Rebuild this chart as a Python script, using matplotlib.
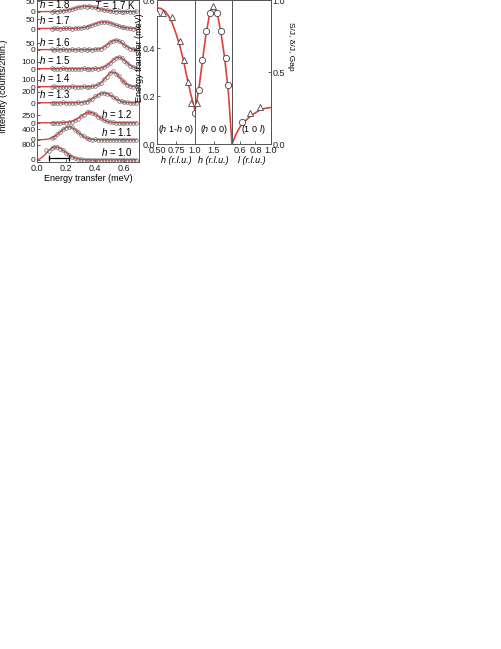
import numpy as np
import matplotlib
matplotlib.use("Agg")
import matplotlib.pyplot as plt

plt.rcParams["font.family"] = ["Liberation Sans", "DejaVu Sans"]
plt.rcParams["mathtext.fontset"] = "custom"
plt.rcParams["mathtext.rm"] = "Liberation Sans"
plt.rcParams["mathtext.it"] = "Liberation Sans:italic"
plt.rcParams["font.size"] = 6.5

nan = float("nan")

# ---- left panel: constant-Q scans (counts / 2 min) ----
energy = [0.00, 0.02, 0.04, 0.06, 0.08, 0.10, 0.12, 0.14, 0.16, 0.18, 0.20, 0.22,
          0.24, 0.26, 0.28, 0.30, 0.32, 0.34, 0.36, 0.38, 0.40, 0.42, 0.44, 0.46,
          0.48, 0.50, 0.52, 0.54, 0.56, 0.58, 0.60, 0.62, 0.64, 0.66, 0.68]

h_values = [1.8, 1.7, 1.6, 1.5, 1.4, 1.3, 1.2, 1.1, 1.0]
tick_counts = [50, 50, 50, 100, 100, 200, 250, 400, 800]

cnt_h18 = [nan, nan, nan, nan, nan, 1, 4, 2, 6, 3, 9, 8, 15, 16, 23, 22, 28, 25, 27, 22,
           23, 15, 14, 8, 9, 4, 5, 1, 4, 2, 0, 3, 1, 2, 3]
fit_h18 = [2, 2, 2, 2, 2, 2, 2.6, 3.1, 4.0, 5.4, 7.4, 10.1, 13.5, 17.2, 20.9, 24.1, 26.2,
           27, 26.2, 24.1, 20.9, 17.2, 13.5, 10.1, 7.4, 5.4, 4.0, 3.1, 2.6, 2, 2, 2, 2, 2, 2]

cnt_h17 = [nan, nan, nan, nan, nan, 2, 5, 3, 1, 4, 3, 5, 2, 4, 3, 6, 8, 9, 14, 19,
           24, 30, 33, 37, 34, 30, 27, 19, 16, 10, 8, 4, 6, 2, 4]
fit_h17 = [3, 3, 3, 3, 3, 3, 3, 3, 3, 3, 3, 3, 3.2, 3.6, 4.2, 5.4, 7.5, 10.6, 14.9, 20.2,
           25.9, 31.0, 34.7, 36, 34.7, 31.0, 25.9, 20.2, 14.9, 10.6, 7.5, 5.4, 4.2, 3.6, 3.2]

cnt_h16 = [nan, nan, nan, nan, nan, 4, 1, 5, 2, 4, 3, 1, 5, 2, 4, 3, 6, 2, 4, 1,
           6, 8, 10, 25, 33, 55, 63, 74, 62, 55, 33, 24, 10, 8, 3]
fit_h16 = [3, 3, 3, 3, 3, 3, 3, 3, 3, 3, 3, 3, 3, 3, 3, 3, 3, 3, 3, 3.4,
           4.4, 6.8, 12.2, 21.9, 36.1, 52.4, 65.8, 71, 65.8, 52.4, 36.1, 21.9, 12.2, 6.8, 4.4]

cnt_h15 = [nan, nan, nan, nan, nan, 8, 2, 6, 4, 9, 3, 5, 7, 2, 6, 4, 8, 3, 6, 4,
           9, 5, 18, 24, 56, 80, 130, 152, 176, 160, 118, 90, 46, 31, 12]
fit_h15 = [5, 5, 5, 5, 5, 5, 5, 5, 5, 5, 5, 5, 5, 5, 5, 5, 5, 5, 5, 5,
           6, 8.3, 14.2, 27.3, 50.9, 85.4, 124.8, 157.3, 170, 157.3, 124.8, 85.4, 50.9, 27.3, 14.2]

cnt_h14 = [nan, nan, nan, nan, nan, 3, 8, 4, 7, 2, 6, 5, 9, 3, 7, 4, 8, 6, 3, 12,
           14, 38, 58, 112, 150, 205, 222, 190, 162, 100, 68, 30, 20, 7, 9]
fit_h14 = [5, 5, 5, 5, 5, 5, 5, 5, 5, 5, 5, 5, 5, 5, 5, 5, 5, 5, 6.3, 9.2,
           16.8, 33.4, 63.4, 107.3, 157.5, 198.8, 215, 198.8, 157.5, 107.3, 63.4, 33.4, 16.8, 9.2, 6.3]

cnt_h13 = [nan, nan, nan, nan, nan, 9, 2, 7, 4, 10, 3, 6, 8, 2, 10, 7, 20, 25, 55, 74,
           120, 142, 181, 190, 170, 155, 108, 84, 45, 33, 13, 12, 4, 8, 3]
fit_h13 = [5, 5, 5, 5, 5, 5, 5, 5, 5, 5, 5, 5, 5, 5.7, 7, 10.2, 16.9, 29.3, 49.8, 79,
           114.3, 149.2, 175.3, 185, 175.3, 149.2, 114.3, 79, 49.8, 29.3, 16.9, 10.2, 7, 5.7, 5]

cnt_h12 = [nan, nan, nan, nan, nan, 14, 3, 10, 5, 16, 12, 35, 45, 98, 135, 215, 265, 330, 345, 312,
           280, 200, 150, 84, 60, 24, 22, 6, 14, 4, 11, 6, 10, 3, 9]
fit_h12 = [8, 8, 8, 8, 8, 8, 8, 8, 9.2, 11.6, 17.6, 29.8, 52.6, 90.2, 143.6, 208.3, 272.3, 320.2,
           338, 320.2, 272.3, 208.3, 143.6, 90.2, 52.6, 29.8, 17.6, 11.6, 9.2, 8, 8, 8, 8, 8, 8]

cnt_h11 = [nan, nan, nan, nan, nan, 80, 118, 210, 285, 395, 445, 490, 460, 375, 305, 195, 135, 65, 48, 18,
           22, 6, 15, 8, 13, 5, 12, 9, 14, 6, 11, 8, 13, 7, 10]
fit_h11 = [10, 11.8, 15.2, 23.6, 41, 73.5, 127, 203.2, 295.3, 386.5, 454.6, 480, 454.6, 386.5, 295.3,
           203.2, 127, 73.5, 41, 23.6, 15.2, 11.8, 10, 10, 10, 10, 10, 10, 10, 10, 10, 10, 10, 10, 10]

cnt_h10 = [nan, nan, nan, 520, 480, 650, 710, 680, 600, 530, 370, 280, 150, 110, 45, 40, 12, 25, 5, 18,
           8, 14, 3, 12, 7, 15, 5, 11, 9, 13, 4, 12, 8, 10, 6]
fit_h10 = [20, 60, 170, 330, 500, 630, 695, 690, 620, 510, 385, 265, 170, 103, 60, 35, 22, 15, 12, 11,
           10, 10, 10, 10, 10, 10, 10, 10, 10, 10, 10, 10, 10, 10, 10]

counts = [cnt_h18, cnt_h17, cnt_h16, cnt_h15, cnt_h14, cnt_h13, cnt_h12, cnt_h11, cnt_h10]
fits = [fit_h18, fit_h17, fit_h16, fit_h15, fit_h14, fit_h13, fit_h12, fit_h11, fit_h10]
resolution = [0.08, 0.22]

# ---- right panel: dispersion ----
seg1_curve_h = [0.50, 0.55, 0.60, 0.65, 0.70, 0.75, 0.80, 0.85, 0.90, 0.95, 1.00]
seg1_curve_e = [0.567, 0.565, 0.555, 0.535, 0.505, 0.46, 0.41, 0.345, 0.27, 0.20, 0.14]
seg1_tri_h = [0.50, 0.58, 0.70, 0.80, 0.85, 0.905, 0.95]
seg1_tri_e = [0.546, 0.546, 0.53, 0.43, 0.35, 0.26, 0.17]
seg1_circ_h = [0.995]
seg1_circ_e = [0.13]

seg2_curve_h = [1.0, 1.1, 1.2, 1.3, 1.4, 1.5, 1.6, 1.7, 1.8, 1.9, 2.0]
seg2_curve_e = [0.14, 0.225, 0.345, 0.46, 0.545, 0.57, 0.545, 0.465, 0.36, 0.22, 0.0]
seg2_circ_h = [1.11, 1.19, 1.30, 1.41, 1.59, 1.70, 1.84, 1.89]
seg2_circ_e = [0.225, 0.35, 0.47, 0.546, 0.546, 0.47, 0.36, 0.245]
seg2_tri_h = [1.06, 1.49]
seg2_tri_e = [0.17, 0.575]

seg3_curve_l = [0.5, 0.55, 0.6, 0.65, 0.7, 0.75, 0.8, 0.85, 0.9, 0.95, 1.0]
seg3_curve_e = [0.0, 0.04, 0.07, 0.09, 0.105, 0.12, 0.13, 0.14, 0.147, 0.15, 0.152]
seg3_circ_l = [0.63]
seg3_circ_e = [0.09]
seg3_tri_l = [0.73, 0.86]
seg3_tri_e = [0.13, 0.155]

# layout of the stacked scans (pixel-like units from the bottom)
baselines = [150, 133, 112, 93, 75, 59, 39, 22, 2]
scales = [0.22, 0.20, 0.14, 0.07, 0.07, 0.055, 0.032, 0.0275, 0.019]

RED = "#e0403a"
EDGE = "#555555"
W, H = 501, 649

fig = plt.figure(figsize=(W / 100, H / 100), dpi=100)


def box(x0, y0, x1, y1):
    return [x0 / W, 1 - y1 / H, (x1 - x0) / W, (y1 - y0) / H]


def style(ax):
    for s in ax.spines.values():
        s.set_color(EDGE)
        s.set_linewidth(0.7)
    ax.tick_params(direction="in", length=2, width=0.5, pad=1.5, labelsize=6.5, colors="#222222")


# left panel
ax = fig.add_axes(box(37, 0, 139, 162))
style(ax)
ax.tick_params(axis="y", labelsize=6, pad=1)
yt, ytl = [], []
for i, h in enumerate(h_values):
    b, s = baselines[i], scales[i]
    ax.plot(energy, b + np.array(fits[i]) * s, color=RED, lw=1.0, zorder=2)
    ax.plot(energy, b + np.array(counts[i]) * s, "o", ms=2.6, mfc="none", mec="#666666",
            mew=0.5, zorder=3)
    yt += [b, b + tick_counts[i] * s]
    ytl += ["0", str(tick_counts[i])]
    if h >= 1.3:
        ax.text(0.015, b + 2.5, f"$h$ = {h:.1f}", fontsize=7, va="bottom", ha="left")
    else:
        ax.text(0.655, b + 2.5, f"$h$ = {h:.1f}", fontsize=7, va="bottom", ha="right")
ax.errorbar(resolution, [4, 4], color="k", lw=0.9, marker="|", ms=4, mew=0.9)
ax.text(0.68, 157, "$T$ = 1.7 K", fontsize=7, ha="right", va="center")
ax.set_yticks(yt)
ax.set_yticklabels(ytl)
ax.set_xticks([0.0, 0.2, 0.4, 0.6])
ax.set_xticklabels(["0.0", "0.2", "0.4", "0.6"])
ax.set_xlim(0, 0.7)
ax.set_ylim(0, 162)
ax.set_xlabel("Energy transfer (meV)", fontsize=6.5, labelpad=0.5)
ax.set_ylabel("Intensity (counts/2min.)", fontsize=6.5)
ax.yaxis.set_label_coords(-0.28, 0.47)

# right panel: three segments
a1 = fig.add_axes(box(157, 0, 195, 144))
a2 = fig.add_axes(box(195, 0, 232, 144))
a3 = fig.add_axes(box(232, 0, 271, 144))
mk = dict(ls="none", mfc="white", mec="#444444", mew=0.6, ms=4.5, zorder=3)
for a in (a1, a2, a3):
    style(a)
    a.set_ylim(0, 0.6)

a1.plot(seg1_curve_h, seg1_curve_e, color=RED, lw=1.2)
a1.plot(seg1_tri_h, seg1_tri_e, marker="^", **mk)
a1.plot(seg1_circ_h, seg1_circ_e, marker="o", **mk)
a1.set_xlim(0.5, 1.0)
a1.set_xticks([0.5, 0.75, 1.0])
a1.set_xticklabels(["0.50", "0.75", "1.0"])
a1.set_yticks([0, 0.2, 0.4, 0.6])
a1.set_yticklabels(["0.0", "0.2", "0.4", "0.6"])
a1.set_ylabel("Energy transfer (meV)", fontsize=6.5)
a1.yaxis.set_label_coords(-0.35, 0.6)
a1.set_xlabel("h (r.l.u.)", fontstyle="italic", fontsize=6.5, labelpad=0.5)
a1.text(0.5, 0.08, "($h$ 1-$h$ 0)", transform=a1.transAxes, ha="center", fontsize=6.5)

a2.plot(seg2_curve_h, seg2_curve_e, color=RED, lw=1.2)
a2.plot(seg2_circ_h, seg2_circ_e, marker="o", **mk)
a2.plot(seg2_tri_h, seg2_tri_e, marker="^", **mk)
a2.set_xlim(1.0, 2.0)
a2.set_xticks([1.5])
a2.set_xticklabels(["1.5"])
a2.set_yticks([])
a2.set_xlabel("h (r.l.u.)", fontstyle="italic", fontsize=6.5, labelpad=0.5)
a2.text(0.5, 0.08, "($h$ 0 0)", transform=a2.transAxes, ha="center", fontsize=6.5)

a3.plot(seg3_curve_l, seg3_curve_e, color=RED, lw=1.2, clip_on=False)
a3.plot(seg3_circ_l, seg3_circ_e, marker="o", **mk)
a3.plot(seg3_tri_l, seg3_tri_e, marker="^", **mk)
a3.set_xlim(0.5, 1.0)
a3.set_xticks([0.6, 0.8, 1.0])
a3.set_xticklabels(["0.6", "0.8", "1.0"])
a3.set_yticks([])
a3.set_xlabel("l (r.l.u.)", fontstyle="italic", fontsize=6.5, labelpad=0.5)
a3.text(0.55, 0.08, "(1 0 $l$)", transform=a3.transAxes, ha="center", fontsize=6.5)

a3r = a3.twinx()
style(a3r)
a3r.tick_params(axis="y", pad=1)
a3r.set_ylim(0, 1.0)
a3r.set_yticks([0, 0.5, 1.0])
a3r.set_yticklabels(["0.0", "0.5", "1.0"])
a3r.set_ylabel("S/J, δ/J, Gap", fontsize=6, rotation=270)
a3r.yaxis.set_label_coords(1.58, 0.68)

fig.savefig("out.png", dpi=100)
